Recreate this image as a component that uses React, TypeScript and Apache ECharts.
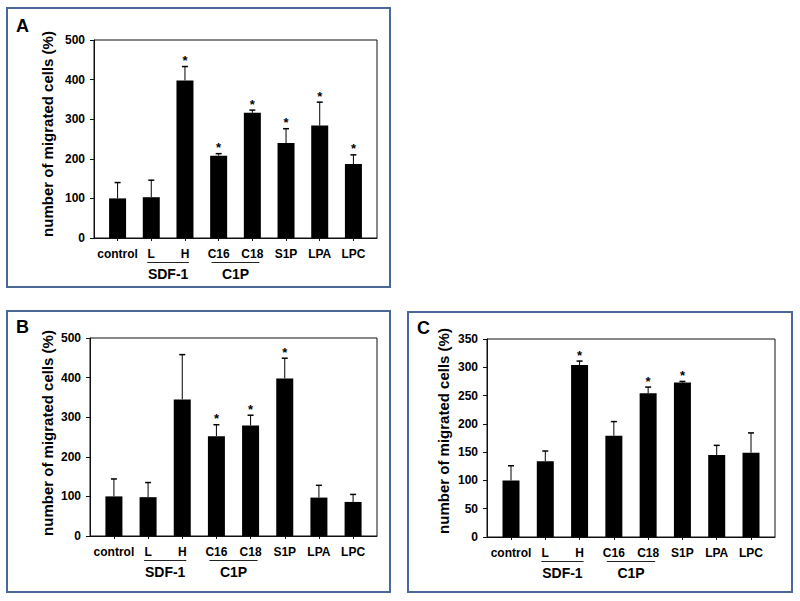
import React, { useEffect, useRef } from 'react';
import * as echarts from 'echarts';

const categories = ['control', 'L', 'H', 'C16', 'C18', 'S1P', 'LPA', 'LPC'];
const positions = [1, 2, 3, 4, 5, 6, 7, 8];

// Panel A
const meansA = [100, 103, 398, 208, 316, 240, 284, 187];
const topsA = [140, 146, 433, 213, 323, 276, 343, 210];
const starsA = [0, 0, 1, 1, 1, 1, 1, 1];

// Panel B
const meansB = [100, 98, 345, 252, 279, 398, 97, 86];
const topsB = [144, 135, 458, 281, 305, 449, 128, 105];
const starsB = [0, 0, 0, 1, 1, 1, 0, 0];

// Panel C
const meansC = [100, 134, 304, 179, 254, 273, 145, 149];
const topsC = [126, 152, 311, 204, 265, 275, 162, 184];
const starsC = [0, 0, 1, 0, 1, 1, 0, 0];

const yMaxAB = 500;
const yStepAB = 100;
const yMaxC = 350;
const yStepC = 50;

const panelLetters = ['A', 'B', 'C'];
const yTitle = 'number of migrated cells (%)';
const groups = [
  { label: 'SDF-1', from: 2, to: 3, pad: 4 },
  { label: 'C1P', from: 4, to: 5, pad: 7 },
];

const FONT = '"Liberation Sans", Arial, Helvetica, sans-serif';

export default function App() {
  const ref = useRef<HTMLDivElement>(null);

  useEffect(() => {
    if (!ref.current) return;
    const chart = echarts.init(ref.current, null, { renderer: 'svg' });

    const grids = [
      { left: 94, top: 40, width: 283, height: 198 },
      { left: 90, top: 338, width: 287, height: 198 },
      { left: 487, top: 339, width: 288, height: 198 },
    ];
    const panels = [
      { means: meansA, tops: topsA, stars: starsA, max: yMaxAB, step: yStepAB },
      { means: meansB, tops: topsB, stars: starsB, max: yMaxAB, step: yStepAB },
      { means: meansC, tops: topsC, stars: starsC, max: yMaxC, step: yStepC },
    ];

    const labelStyle = {
      fontFamily: FONT,
      fontWeight: 'bold' as const,
      fontSize: 12,
      color: '#000',
    };

    const series: any[] = [];
    panels.forEach((p, k) => {
      series.push({
        type: 'bar',
        xAxisIndex: k,
        yAxisIndex: k,
        barWidth: 17,
        itemStyle: { color: '#000' },
        data: positions.map((x, i) => [x, p.means[i]]),
      });
      series.push({
        type: 'custom',
        xAxisIndex: k,
        yAxisIndex: k,
        encode: { x: 0, y: [1, 2] },
        data: positions.map((x, i) => [x, p.means[i], p.tops[i], p.stars[i]]),
        renderItem: (params: any, api: any) => {
          const x = api.value(0);
          const m = api.value(1);
          const t = api.value(2);
          const s = api.value(3);
          const p0 = api.coord([x, m]);
          const p1 = api.coord([x, t]);
          const children: any[] = [
            {
              type: 'line',
              shape: { x1: p0[0], y1: p0[1], x2: p1[0], y2: p1[1] },
              style: { stroke: '#000', lineWidth: 1 },
            },
            {
              type: 'line',
              shape: { x1: p1[0] - 3, y1: p1[1], x2: p1[0] + 3, y2: p1[1] },
              style: { stroke: '#000', lineWidth: 1.5 },
            },
          ];
          if (s) {
            children.push({
              type: 'text',
              x: p1[0],
              y: p1[1] - 6,
              style: {
                text: '*',
                fill: '#000',
                font: `bold 13px ${FONT}`,
                align: 'center',
                verticalAlign: 'middle',
                textAlign: 'center',
                textVerticalAlign: 'middle',
              },
            });
          }
          return { type: 'group', children };
        },
      });
    });

    chart.setOption({
      animation: false,
      backgroundColor: '#fff',
      grid: grids.map((g) => ({
        ...g,
        show: true,
        borderColor: '#111',
        borderWidth: 1,
        backgroundColor: 'transparent',
      })),
      xAxis: grids.map((_, k) => ({
        type: 'value',
        gridIndex: k,
        min: 0.3,
        max: 8.7,
        splitLine: { show: false },
        axisLine: { show: true, lineStyle: { color: '#111', width: 1 } },
        axisTick: {
          show: true,
          customValues: positions,
          length: 3,
          lineStyle: { color: '#111' },
        },
        axisLabel: {
          ...labelStyle,
          customValues: positions,
          margin: 10,
          formatter: (v: number) => categories[Math.round(v) - 1] ?? '',
        },
      })),
      yAxis: panels.map((p, k) => ({
        type: 'value',
        gridIndex: k,
        min: 0,
        max: p.max,
        interval: p.step,
        splitLine: { show: false },
        axisLine: { show: true, lineStyle: { color: '#111', width: 1 } },
        axisTick: { show: true, length: 4, lineStyle: { color: '#111' } },
        axisLabel: { ...labelStyle, margin: 9 },
      })),
      series,
    });

    const frames = [
      { x: 7, y: 8, width: 383, height: 279 },
      { x: 7, y: 311, width: 383, height: 281 },
      { x: 408, y: 312, width: 384, height: 280 },
    ];
    const letterPos = [
      [16, 26],
      [16, 327],
      [417, 328],
    ];
    const titlePos = [
      [47, 134],
      [47, 433],
      [443, 431],
    ];

    const graphic: any[] = [];
    frames.forEach((f) => {
      graphic.push({
        type: 'rect',
        shape: f,
        style: { fill: 'none', stroke: '#4a6895', lineWidth: 2 },
        silent: true,
      });
    });
    panelLetters.forEach((l, k) => {
      graphic.push({
        type: 'text',
        x: letterPos[k][0],
        y: letterPos[k][1],
        style: {
          text: l,
          fill: '#000',
          font: `bold 18px ${FONT}`,
          textAlign: 'left',
          textVerticalAlign: 'middle',
          align: 'left',
          verticalAlign: 'middle',
        },
      });
      graphic.push({
        type: 'text',
        x: titlePos[k][0],
        y: titlePos[k][1],
        rotation: Math.PI / 2,
        style: {
          text: yTitle,
          fill: '#000',
          font: `bold 15px ${FONT}`,
          textAlign: 'center',
          textVerticalAlign: 'middle',
          align: 'center',
          verticalAlign: 'middle',
        },
      });
      groups.forEach((g) => {
        const a = chart.convertToPixel({ gridIndex: k }, [g.from, 0]) as number[];
        const b = chart.convertToPixel({ gridIndex: k }, [g.to, 0]) as number[];
        const ly = a[1] + 24.5;
        graphic.push({
          type: 'line',
          shape: { x1: a[0] - g.pad, y1: ly, x2: b[0] + g.pad, y2: ly },
          style: { stroke: '#222', lineWidth: 1 },
        });
        graphic.push({
          type: 'text',
          x: (a[0] + b[0]) / 2,
          y: a[1] + 36,
          style: {
            text: g.label,
            fill: '#000',
            font: `bold 14px ${FONT}`,
            textAlign: 'center',
            textVerticalAlign: 'middle',
            align: 'center',
            verticalAlign: 'middle',
          },
        });
      });
    });

    chart.setOption({ graphic });

    return () => {
      chart.dispose();
    };
  }, []);

  return (
    <div
      ref={ref}
      style={{ position: 'fixed', left: 0, top: 0, width: 800, height: 601, background: '#fff' }}
    />
  );
}
